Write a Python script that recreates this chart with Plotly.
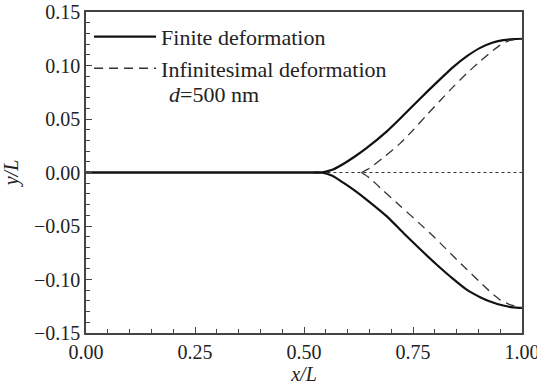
import plotly.graph_objects as go

# Finite deformation (upper and lower branches)
fin_x = [0, 0.25, 0.45, 0.5, 0.52, 0.54, 0.565, 0.59, 0.615, 0.644, 0.69, 0.728, 0.766, 0.804, 0.842, 0.873, 0.904, 0.93, 0.957, 0.98, 1.0]
fin_up = [0, 0, 0, 0, 0, 0, 0.0025, 0.008, 0.0145, 0.023, 0.0385, 0.0535, 0.069, 0.084, 0.0985, 0.1085, 0.1165, 0.121, 0.1237, 0.1247, 0.125]
fin_lo = [0, 0, 0, 0, 0, 0, -0.003, -0.0095, -0.0165, -0.0255, -0.041, -0.0565, -0.0715, -0.086, -0.0995, -0.1095, -0.1165, -0.121, -0.1243, -0.126, -0.1265]

# Infinitesimal deformation (upper and lower branches)
inf_x_up = [0.632, 0.65, 0.682, 0.72, 0.751, 0.781, 0.812, 0.842, 0.873, 0.904, 0.93, 0.95, 0.972, 1.0]
inf_up = [0, 0.004, 0.014, 0.027, 0.040, 0.0535, 0.067, 0.080, 0.0925, 0.104, 0.113, 0.119, 0.1235, 0.125]
inf_x_lo = [0.632, 0.65, 0.682, 0.72, 0.766, 0.79, 0.812, 0.842, 0.873, 0.904, 0.93, 0.95, 0.972, 1.0]
inf_lo = [0, -0.005, -0.017, -0.031, -0.048, -0.057, -0.0658, -0.078, -0.0905, -0.1025, -0.1125, -0.119, -0.1235, -0.1265]

# Reference dotted line
dot_x = [0.54, 1.0]
dot_y = [0, 0]

x_ticks = [0, 0.25, 0.5, 0.75, 1.0]
x_ticklabels = ["0.00", "0.25", "0.50", "0.75", "1.00"]
y_ticks = [-0.15, -0.10, -0.05, 0, 0.05, 0.10, 0.15]
y_ticklabels = ["\u22120.15", "\u22120.10", "\u22120.05", "0.00", "0.05", "0.10", "0.15"]

FONT = "Liberation Serif"
TXT = "#222222"
AX = "#444444"
SM = 0.6

fig = go.Figure()
fig.add_trace(go.Scatter(x=dot_x, y=dot_y, mode="lines", showlegend=False,
                         line=dict(color="#333333", width=1.2, dash="dot")))
fig.add_trace(go.Scatter(x=fin_x, y=fin_up, mode="lines", name="Finite deformation",
                         line=dict(color="#111111", width=2.2, shape="spline", smoothing=SM)))
fig.add_trace(go.Scatter(x=fin_x, y=fin_lo, mode="lines", showlegend=False,
                         line=dict(color="#111111", width=2.2, shape="spline", smoothing=SM)))
fig.add_trace(go.Scatter(x=inf_x_up, y=inf_up, mode="lines", name="Infinitesimal deformation",
                         line=dict(color="#333333", width=1.3, dash="9px,6px", shape="spline", smoothing=SM)))
fig.add_trace(go.Scatter(x=inf_x_lo, y=inf_lo, mode="lines", showlegend=False,
                         line=dict(color="#333333", width=1.3, dash="9px,6px", shape="spline", smoothing=SM)))

fig.add_annotation(text="<i>d</i>=500 nm", xref="paper", yref="paper",
                   x=0.186, y=(333 - 94) / 321, xanchor="left", yanchor="middle",
                   showarrow=False, font=dict(family=FONT, size=22, color=TXT))

fig.update_layout(
    width=537, height=389,
    margin=dict(l=86, r=15, t=12, b=56, autoexpand=False),
    paper_bgcolor="white", plot_bgcolor="white",
    font=dict(family=FONT, size=20, color=TXT),
    legend=dict(x=0.007, y=0.988, xanchor="left", yanchor="top",
                bgcolor="rgba(0,0,0,0)", itemwidth=62, tracegroupgap=0,
                font=dict(family=FONT, size=22, color=TXT)),
    xaxis=dict(range=[0, 1], tickvals=x_ticks, ticktext=x_ticklabels,
               automargin=False, ticklabeloverflow="allow",
               showgrid=False, zeroline=False, showline=True, mirror=True,
               linecolor=AX, linewidth=1.5, ticks="inside", ticklen=6,
               tickcolor=AX, tickwidth=1.3,
               minor=dict(dtick=0.05, tick0=0, ticks="inside", ticklen=4, tickcolor=AX, tickwidth=1.2),
               title=dict(text="<i>x/L</i>", standoff=3, font=dict(family=FONT, size=20, color=TXT))),
    yaxis=dict(range=[-0.15, 0.15], tickvals=y_ticks, ticktext=y_ticklabels,
               automargin=False, ticklabeloverflow="allow",
               showgrid=False, zeroline=False, showline=True, mirror=True,
               linecolor=AX, linewidth=1.5, ticks="inside", ticklen=6,
               tickcolor=AX, tickwidth=1.3,
               minor=dict(dtick=0.01, tick0=0, ticks="inside", ticklen=4, tickcolor=AX, tickwidth=1.2),
               title=dict(text="<i>y/L</i>", standoff=10, font=dict(family=FONT, size=20, color=TXT))),
)

# remove the default 8px page margin so the figure fills the window exactly
fig.write_html("out.html", config={"displayModeBar": False},
               post_script="document.body.style.margin='0';")
